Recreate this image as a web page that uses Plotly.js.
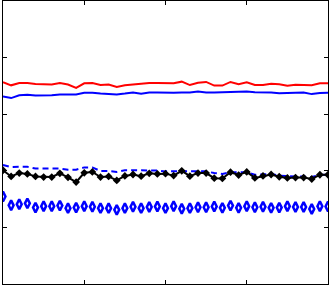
<!DOCTYPE html>
<html>
<head>
<meta charset="utf-8">
<script src="https://cdn.plot.ly/plotly-3.0.1.min.js"></script>
<style>html,body{margin:0;padding:0;background:#fff;}#chart{width:332px;height:286px;}</style>
</head>
<body>
<div id="chart"></div>
<script>
const xs = Array.from({length: 41}, (_, i) => i);
const redLine = [0.713,0.702,0.710,0.710,0.707,0.705,0.705,0.710,0.705,0.693,0.709,0.710,0.703,0.705,0.696,0.702,0.705,0.708,0.710,0.710,0.710,0.709,0.715,0.703,0.711,0.714,0.701,0.701,0.714,0.706,0.713,0.703,0.703,0.708,0.706,0.701,0.704,0.702,0.702,0.709,0.709];
const blueLine = [0.663,0.657,0.667,0.669,0.666,0.666,0.667,0.670,0.670,0.670,0.676,0.676,0.673,0.672,0.670,0.673,0.677,0.672,0.677,0.677,0.676,0.676,0.677,0.677,0.680,0.677,0.677,0.678,0.678,0.681,0.680,0.678,0.678,0.677,0.674,0.674,0.676,0.677,0.671,0.675,0.676];
const blueDashed = [0.421,0.413,0.414,0.414,0.408,0.408,0.408,0.408,0.404,0.404,0.412,0.412,0.399,0.399,0.396,0.402,0.402,0.402,0.402,0.401,0.398,0.398,0.399,0.398,0.398,0.398,0.392,0.389,0.395,0.395,0.395,0.386,0.387,0.389,0.383,0.381,0.380,0.380,0.378,0.385,0.386];
const blackLine = [0.402,0.380,0.392,0.389,0.380,0.378,0.378,0.391,0.377,0.360,0.393,0.396,0.378,0.380,0.366,0.382,0.387,0.381,0.391,0.389,0.390,0.383,0.400,0.381,0.392,0.392,0.374,0.373,0.395,0.385,0.396,0.375,0.382,0.387,0.379,0.375,0.376,0.376,0.371,0.386,0.386];
const blueDiamonds = [0.309,0.278,0.282,0.285,0.270,0.275,0.275,0.277,0.268,0.270,0.275,0.273,0.268,0.268,0.262,0.268,0.273,0.268,0.272,0.274,0.268,0.275,0.266,0.268,0.271,0.271,0.274,0.269,0.277,0.269,0.275,0.271,0.273,0.269,0.270,0.275,0.272,0.272,0.265,0.275,0.274];

const traces = [
  {x: xs, y: redLine, mode: 'lines', line: {color: '#ff0000', width: 2}},
  {x: xs, y: blueLine, mode: 'lines', line: {color: '#0000ff', width: 2}},
  {x: xs, y: blueDashed, mode: 'lines', line: {color: '#0000ff', width: 2, dash: '6px,4px'}},
  {x: xs, y: blackLine, mode: 'lines+markers', line: {color: '#000000', width: 2},
   marker: {symbol: 'diamond', size: 6, color: '#000000'}},
  {x: xs, y: blueDiamonds, mode: 'markers',
   marker: {symbol: 'diamond-tall-open', size: 7, color: '#0000ff', line: {width: 2.5, color: '#0000ff'}}}
];

const axisCommon = {
  showgrid: false, zeroline: false, showline: true, linecolor: '#000', linewidth: 1,
  mirror: 'ticks', ticks: 'inside', ticklen: 4, tickcolor: '#000', showticklabels: false
};

const layout = {
  width: 332, height: 286,
  margin: {l: 3, r: 4, t: 1, b: 2},
  paper_bgcolor: '#fff', plot_bgcolor: '#fff',
  showlegend: false,
  xaxis: Object.assign({}, axisCommon, {range: [0, 40], dtick: 10}),
  yaxis: Object.assign({}, axisCommon, {range: [0, 1], dtick: 0.2})
};

Plotly.newPlot('chart', traces, layout, {displayModeBar: false, staticPlot: true});
</script>
</body>
</html>
